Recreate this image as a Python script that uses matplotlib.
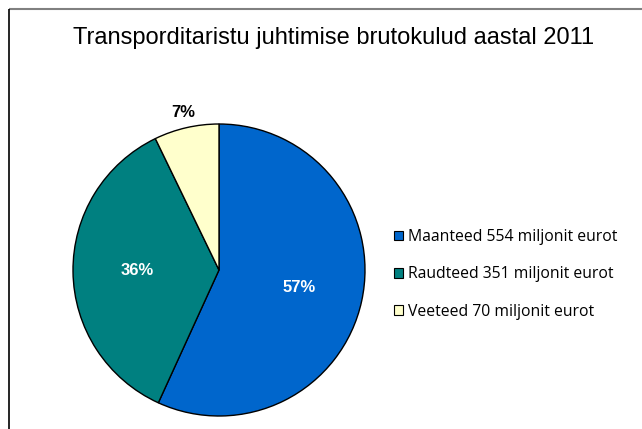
import numpy as np
import matplotlib
matplotlib.use("Agg")
import matplotlib.pyplot as plt
from matplotlib.patches import Patch

title = "Transporditaristu juhtimise brutokulud aastal 2011"
categories = ["Maanteed", "Raudteed", "Veeteed"]
values = [554, 351, 70]
unit = "miljonit eurot"
colors = ["#0066CC", "#008080", "#FFFFCC"]

W, H = 642, 429
fig = plt.figure(figsize=(W / 100, H / 100), dpi=100)
ax = fig.add_axes([0, 0, 1, 1])

# chart area border (top and left edges visible)
ax.plot([8.5, W], [H - 8.5, H - 8.5], color="#808080", lw=1.5, solid_capstyle="butt")
ax.plot([8.5, 8.5], [0, H - 8.5], color="black", lw=1.2, solid_capstyle="butt")

cx, cy, r = 219, H - 270, 146
wedges, texts, autotexts = ax.pie(
    values, colors=colors, startangle=90, counterclock=False,
    center=(cx, cy), radius=r, autopct="%1.0f%%", pctdistance=0.56,
    wedgeprops=dict(edgecolor="black", linewidth=1.0), frame=True,
)
ax.set_xlim(0, W)
ax.set_ylim(0, H)
ax.set_aspect("equal")
ax.axis("off")

total = sum(values)
for w, t, v in zip(wedges, autotexts, values):
    t.set_fontfamily("Liberation Sans")
    t.set_fontweight("bold")
    t.set_fontsize(12)
    if v / total < 0.1:
        ang = np.deg2rad((w.theta1 + w.theta2) / 2)
        t.set_position((cx + 1.11 * r * np.cos(ang), cy + 1.11 * r * np.sin(ang)))
        t.set_color("black")
    else:
        t.set_color("white")

fig.text(334 / W, 1 - 38 / H, title, ha="center", va="center",
         fontsize=17, fontfamily="Liberation Sans")

handles = [Patch(facecolor=c, edgecolor="black", linewidth=0.8) for c in colors]
labels = [f"{c} {v} {unit}" for c, v in zip(categories, values)]
fig.legend(handles, labels, loc="upper left", bbox_to_anchor=(394 / W, 1 - 229 / H),
           frameon=False, prop=dict(family="Open Sans", size=11.3),
           handlelength=0.55, handleheight=0.55, handletextpad=0.35,
           labelspacing=1.36, borderaxespad=0, borderpad=0)

fig.savefig("out.png", dpi=100)
